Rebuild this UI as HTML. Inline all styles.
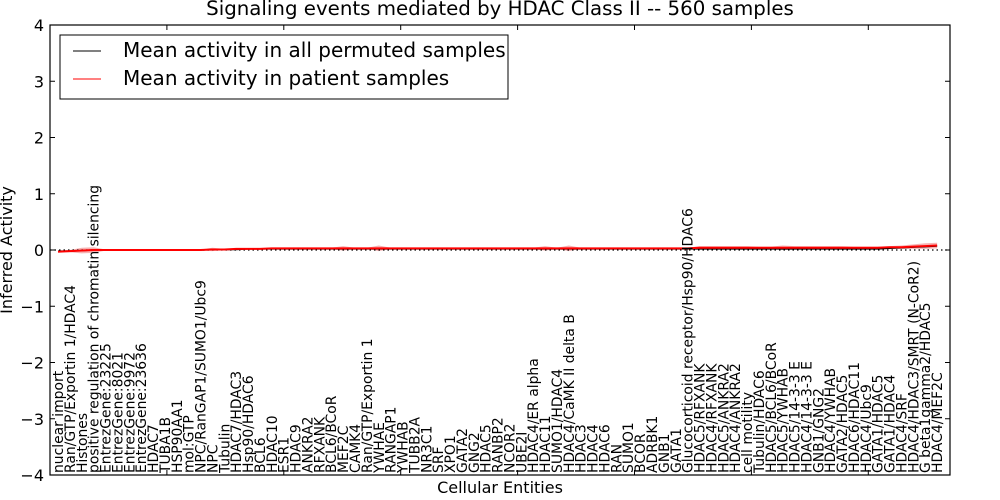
<!DOCTYPE html>
<html><head><meta charset="utf-8"><style>
body{margin:0;background:#fff;}
svg{display:block;font-family:"DejaVu Sans","Liberation Sans",sans-serif;}
</style></head><body>
<svg id="chart" width="1000" height="500" xmlns="http://www.w3.org/2000/svg">
<text x="500" y="15" font-size="19.8" text-anchor="middle">Signaling events mediated by HDAC Class II -- 560 samples</text>
<text x="12" y="250" font-size="16" text-anchor="middle" transform="rotate(-90 12 250)">Inferred Activity</text>
<text x="500" y="493" font-size="16" text-anchor="middle">Cellular Entities</text>
<g id="plot"></g>
<g id="legend">
<rect x="60" y="35" width="448" height="64" fill="#fff" stroke="#000" stroke-width="1"/>
<g><line x1="73" y1="51" x2="101" y2="51" stroke="#000" stroke-width="1"/><text x="123" y="57" font-size="20">Mean activity in all permuted samples</text></g>
<g><line x1="73" y1="79" x2="101" y2="79" stroke="#f00" stroke-width="1"/><text x="123" y="85" font-size="20">Mean activity in patient samples</text></g>
</g>
</svg>
<script>
const categories = ["nuclear import","Ran/GTP/Exportin 1/HDAC4","Histones","positive regulation of chromatin silencing","EntrezGene:23225","EntrezGene:8021","EntrezGene:9972","EntrezGene:23636","HDAC7","TUBA1B","HSP90AA1","mol:GTP","NPC/RanGAP1/SUMO1/Ubc9","NPC","Tubulin","HDAC7/HDAC3","Hsp90/HDAC6","BCL6","HDAC10","ESR1","HDAC9","ANKRA2","RFXANK","BCL6/BCoR","MEF2C","CAMK4","Ran/GTP/Exportin 1","YWHAE","RANGAP1","YWHAB","TUBB2A","NR3C1","SRF","XPO1","GATA2","GNG2","HDAC5","RANBP2","NCOR2","UBE2I","HDAC4/ER alpha","HDAC11","SUMO1/HDAC4","HDAC4/CaMK II delta B","HDAC3","HDAC4","HDAC6","RAN","SUMO1","BCOR","ADRBK1","GNB1","GATA1","Glucocorticoid receptor/Hsp90/HDAC6","HDAC5/RFXANK","HDAC4/RFXANK","HDAC5/ANKRA2","HDAC4/ANKRA2","cell motility","Tubulin/HDAC6","HDAC5/BCL6/BCoR","HDAC5/YWHAB","HDAC5/14-3-3 E","HDAC4/14-3-3 E","GNB1/GNG2","HDAC4/YWHAB","GATA2/HDAC5","HDAC6/HDAC11","HDAC4/Ubc9","GATA1/HDAC5","GATA1/HDAC4","HDAC4/SRF","HDAC4/HDAC3/SMRT (N-CoR2)","G beta1gamma2/HDAC5","HDAC4/MEF2C"];
const patientMean = [-0.03,-0.02,-0.01,0.0,0.0,0.0,0.0,0.0,0.0,0.0,0.0,0.0,0.0,0.01,0.01,0.02,0.02,0.02,0.03,0.03,0.03,0.03,0.03,0.03,0.03,0.03,0.03,0.03,0.03,0.03,0.03,0.03,0.03,0.03,0.03,0.03,0.03,0.03,0.03,0.03,0.03,0.03,0.03,0.03,0.03,0.03,0.03,0.03,0.03,0.03,0.03,0.03,0.03,0.03,0.04,0.04,0.04,0.04,0.04,0.04,0.04,0.04,0.04,0.04,0.04,0.04,0.04,0.04,0.04,0.04,0.05,0.05,0.06,0.07,0.08];
const permutedMean = [-0.02,-0.02,-0.01,0.0,0.0,0.0,0.0,0.0,0.0,0.0,0.0,0.0,0.0,0.01,0.01,0.01,0.02,0.02,0.02,0.02,0.02,0.02,0.02,0.02,0.02,0.02,0.02,0.02,0.02,0.02,0.02,0.02,0.02,0.02,0.02,0.02,0.02,0.02,0.02,0.02,0.02,0.02,0.02,0.02,0.02,0.02,0.02,0.02,0.02,0.02,0.02,0.02,0.02,0.02,0.02,0.02,0.02,0.02,0.02,0.02,0.02,0.02,0.02,0.02,0.02,0.02,0.02,0.02,0.02,0.02,0.03,0.04,0.05,0.06,0.07];
const bandHalf = [0.02,0.02,0.05,0.05,0.01,0.01,0.01,0.01,0.01,0.01,0.01,0.01,0.01,0.03,0.01,0.01,0.01,0.01,0.01,0.01,0.01,0.01,0.01,0.01,0.04,0.01,0.01,0.05,0.01,0.01,0.01,0.01,0.01,0.01,0.01,0.01,0.01,0.01,0.01,0.01,0.01,0.04,0.01,0.05,0.01,0.01,0.01,0.01,0.01,0.01,0.01,0.01,0.01,0.01,0.03,0.03,0.03,0.03,0.03,0.02,0.02,0.04,0.03,0.03,0.03,0.03,0.03,0.02,0.02,0.02,0.02,0.03,0.04,0.05,0.05];
const yTicks = [4,3,2,1,0,-1,-2,-3,-4];
const yTickLabels = ["4","3","2","1","0","\u22121","\u22122","\u22123","\u22124"];
const xTicks = [10,20,30,40,50,60,70];

const L=50,R=950,T=25,B=475;
const NS="http://www.w3.org/2000/svg";
function ys(v){return 250 - v*(B-T)/8;}
function xs(i){return 58 + i*11.88;}
function xt(v){return L + v*11.69;}
const plot=document.getElementById('plot');
function mk(tag,attrs,parent){const e=document.createElementNS(NS,tag);for(const k in attrs)e.setAttribute(k,attrs[k]);(parent||plot).appendChild(e);return e;}

let up=[],dn=[];
patientMean.forEach((v,i)=>{up.push(xs(i)+','+ys(v+bandHalf[i]));dn.unshift(xs(i)+','+ys(v-bandHalf[i]));});
const band=mk('polygon',{points:up.concat(dn).join(' '),fill:'#f08080','fill-opacity':'0.6',stroke:'none'});


const z=mk('line',{x1:L,x2:R,y1:ys(0),y2:ys(0),stroke:'#000','stroke-width':1.2,'stroke-dasharray':'1.5,3'});


const pl=mk('polyline',{points:permutedMean.map((v,i)=>xs(i)+','+ys(v)).join(' '),fill:'none',stroke:'#000','stroke-width':1.5});


const rl=mk('polyline',{points:patientMean.map((v,i)=>xs(i)+','+ys(v)).join(' '),fill:'none',stroke:'#f00','stroke-width':2});



categories.forEach((c,i)=>{
  const t=mk('text',{x:0,y:0,'font-size':13.9,transform:`translate(${xs(i)+5},473) rotate(-90)`});
  
  
  t.textContent=c;
});
const fr=mk('rect',{x:L,y:T,width:R-L,height:B-T,fill:'none',stroke:'#000','stroke-width':1.2});


yTicks.forEach((v,i)=>{
  const y=ys(v);
  mk('line',{x1:L,x2:L+5,y1:y,y2:y,stroke:'#000'});
  mk('line',{x1:R-5,x2:R,y1:y,y2:y,stroke:'#000'});
  const t=mk('text',{x:L-6,y:y+6,'font-size':16,'text-anchor':'end'});
  
  
  t.textContent=yTickLabels[i];
});
xTicks.forEach(v=>{
  const x=xt(v);
  mk('line',{x1:x,x2:x,y1:T,y2:T+5,stroke:'#000'});
  mk('line',{x1:x,x2:x,y1:B-5,y2:B,stroke:'#000'});
});
</script>
</body></html>
